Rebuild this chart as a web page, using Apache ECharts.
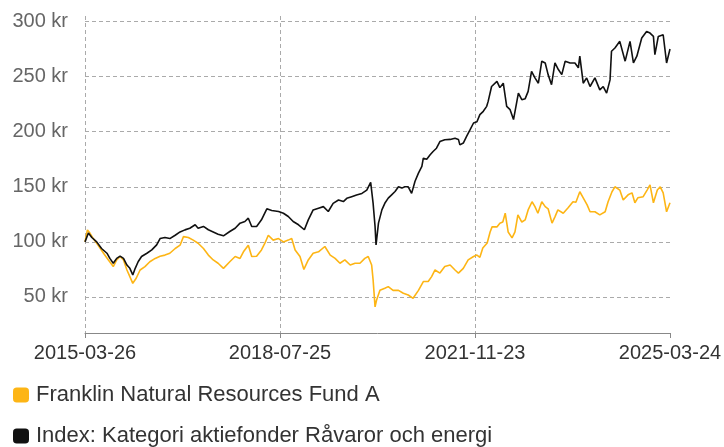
<!DOCTYPE html>
<html>
<head>
<meta charset="utf-8">
<script src="https://cdn.jsdelivr.net/npm/echarts@6/dist/echarts.min.js"></script>
<style>
  html, body { margin: 0; padding: 0; background: #fff; }
  #chart { width: 724px; height: 447px; }
</style>
</head>
<body>
<div id="chart"></div>
<script>
// x = months since 2015-03-26
const xTickLabels = ['2015-03-26', '2018-07-25', '2021-11-23', '2025-03-24']
const yTicks = [50, 100, 150, 200, 250, 300]
const seriesNames = ['Franklin Natural Resources Fund A', 'Index: Kategori aktiefonder Råvaror och energi']

const fundMonths = [0, 0.5, 1.0, 1.7, 2.7, 3.8, 4.8, 5.8, 6.5, 7.2, 7.9, 8.6, 9.2, 9.8, 10.5, 11.3, 12.3, 13.3, 14.4, 15.4,
  16.4, 17.4, 18.5, 19.5, 20.2, 21.2, 22.2, 23.2, 24.3, 25.3, 26.3, 27.3, 28.4, 29.7, 30.8, 31.8, 32.5, 33.5, 34.2, 35.2,
  36.2, 36.9, 37.6, 38.6, 39.7, 40.7, 41.7, 42.4, 43.1, 44.1, 44.9, 45.8, 46.8, 47.9, 49.2, 50.3, 51.3, 52.3, 53.3, 54.4,
  55.4, 56.4, 57.4, 58.1, 58.8, 59.1, 59.5, 59.8, 60.5, 61.5, 62.2, 63.2, 64.3, 65.3, 66.3, 67.3, 68.4, 69.4, 70.4, 71.1,
  71.8, 72.8, 73.8, 74.9, 75.9, 76.6, 77.6, 78.6, 79.7, 80.4, 81.0, 81.6, 82.5, 83.1, 83.5, 84.5, 85.1, 85.7, 86.2, 86.8,
  87.6, 88.2, 88.8, 89.6, 90.3, 90.9, 91.7, 92.3, 92.9, 93.7, 94.4, 95.0, 95.8, 96.4, 97.0, 98.1, 99.1, 100.1, 100.7, 101.5,
  102.2, 103.0, 103.6, 104.6, 105.6, 106.7, 107.3, 108.1, 108.7, 109.7, 110.4, 111.4, 112.2, 112.8, 113.4, 114.5, 115.3, 115.9, 116.6, 117.4,
  118.0, 118.6, 119.3, 120]
const fundValues = [100, 110.9, 108, 103, 97, 89.7, 83.6, 77.6, 83.6, 86.7, 83.6, 74.5, 68.5, 62.4, 67, 74.5, 77.6, 82, 85, 87,
  88, 89.7, 94, 97, 104.8, 104, 101.6, 98.8, 94, 88, 83.6, 80.6, 76, 82, 86.7, 85, 91, 97, 86.7, 87,
  92.7, 98.8, 106, 101.6, 103, 100, 101.6, 103, 92.7, 86.7, 75, 83.6, 89.7, 91, 95.8, 88, 85, 80.6, 83.6, 79,
  80.6, 80.6, 85, 86.7, 79, 65.5, 41, 47, 56, 57.9, 59.4, 56, 56, 53.4, 51.8, 48.8, 56, 64, 64, 68.5,
  74.5, 71.7, 77.6, 79, 74.5, 71.7, 76, 83.6, 86.7, 88, 86, 94.5, 99, 109, 113.6, 113.6, 117, 118, 126, 109,
  103.6, 109, 124.5, 118, 120, 129, 136.4, 132, 126, 136.4, 132, 130, 117, 122.7, 129, 126, 130.9, 136.4, 136, 145.5,
  140, 133.6, 127.3, 127.3, 124.5, 127.3, 136.4, 145.5, 150, 147, 138, 142.7, 144.5, 135.5, 140, 141, 147, 151.8, 135.5, 147,
  150, 144.5, 127.3, 135.5]

const indexMonths = [0, 0.7, 1.4, 2.4, 3.4, 4.5, 5.1, 5.8, 6.5, 7.2, 7.9, 8.6, 9.2, 9.8, 10.3, 10.9, 11.6, 12.7, 13.7, 14.7,
  15.4, 16.4, 17.4, 18.5, 19.5, 20.5, 21.5, 22.6, 23.2, 24.3, 25.3, 26.3, 27.3, 28.4, 28.7, 29.7, 30.8, 31.8, 32.8, 33.5,
  34.2, 35.2, 36.2, 37.3, 38.3, 39.7, 40.7, 41.7, 42.7, 43.8, 45.0, 45.8, 46.8, 47.9, 48.9, 49.9, 50.9, 52.0, 53.0, 53.7,
  54.7, 55.7, 56.8, 57.8, 58.6, 59.1, 59.5, 59.7, 60.2, 60.9, 61.5, 62.2, 62.9, 63.6, 64.3, 65.0, 65.6, 66.3, 67.0, 67.7,
  68.4, 69.1, 69.4, 70.1, 70.8, 71.4, 72.1, 72.8, 73.8, 74.9, 75.9, 76.6, 76.9, 77.6, 78.3, 79.0, 79.7, 80.4, 81.0, 81.7,
  82.4, 82.7, 83.4, 84.5, 85.1, 85.8, 86.5, 87.2, 87.9, 88.9, 89.6, 90.3, 90.9, 91.6, 92.3, 93.0, 93.7, 94.4, 95.0, 95.7,
  96.4, 97.1, 97.8, 98.5, 99.5, 100.5, 101.2, 101.5, 102.2, 102.9, 103.6, 104.6, 105.6, 106.3, 107.0, 107.7, 108.0, 108.7, 109.7, 110.1,
  110.8, 111.8, 112.5, 113.2, 114.2, 115.2, 115.9, 116.6, 116.9, 117.6, 118.6, 119.3, 120]
const indexValues = [100, 108, 104, 100, 94, 89.7, 85, 80.6, 85, 87, 85, 79, 76, 70, 76, 82, 86.7, 89.7, 92.7, 97.3,
  103, 104, 103, 106, 109, 110.9, 112.4, 115.5, 112.4, 114, 111, 109, 107, 105.5, 104.8, 109.4, 112.4, 117, 118.5, 121.5,
  114, 114, 120, 130, 128.5, 127.6, 126, 123, 118.5, 115.5, 111, 120, 129, 130.6, 132, 127.6, 135, 138, 136.6, 139.5,
  141, 142.5, 144, 147, 154, 135, 114, 97.3, 117, 129, 135, 139.7, 142.7, 145.7, 150, 148.8, 150, 150, 144, 155,
  162.4, 168.5, 176, 175, 179, 182, 185, 191, 192.7, 193, 194, 193, 188, 189.7, 196, 201.8, 207.9, 209, 215.5, 218.5,
  223, 227.5, 241, 245.7, 240, 244, 223, 220, 211, 235, 229, 230, 236.6, 254.8, 248.8, 244, 264, 262.4, 251.8, 242.7,
  262.4, 256.4, 251.8, 264, 262.4, 262.4, 258, 268.5, 244, 248.8, 241, 248.8, 238, 241, 235, 247, 273, 276, 282, 280.5,
  264, 282, 262.4, 268.5, 285, 291, 289.5, 286.5, 270, 286.5, 288, 262.4, 275]

const zip = (xs, ys) => xs.map((x, i) => [x, ys[i]])

const chart = echarts.init(document.getElementById('chart'), null, { renderer: 'canvas' })
const gridDash = { color: '#aaa', width: 1, type: [4, 3] }

// one legend per row, stacked
const legendRow = (name, top) => ({
  orient: 'horizontal',
  left: 13,
  top: top,
  padding: 0,
  itemWidth: 16,
  itemHeight: 15,
  itemGap: 0,
  icon: 'roundRect',
  textStyle: { fontSize: 22, color: '#333', padding: [0, 0, 0, 2] },
  data: [name]
})

chart.setOption({
  animation: false,
  textStyle: { fontFamily: '"Liberation Sans", Arial, sans-serif' },
  grid: { left: 85, right: 54, top: 16, bottom: 114, outerBoundsMode: 'none' },
  legend: [legendRow(seriesNames[0], 384), legendRow(seriesNames[1], 425)],
  xAxis: {
    type: 'value',
    min: 0,
    max: 120,
    interval: 40,
    axisLine: { show: true, lineStyle: { color: '#888' } },
    axisTick: { show: true, length: 5, lineStyle: { color: '#888' } },
    axisLabel: {
      fontSize: 20,
      color: '#333',
      margin: 10,
      formatter: v => xTickLabels[Math.round(v / 40)]
    },
    splitLine: { show: true, showMaxLine: false, lineStyle: gridDash }
  },
  yAxis: {
    type: 'value',
    min: 17.3,
    max: 305,
    axisLine: { show: false },
    axisTick: { show: false, customValues: yTicks },
    axisLabel: {
      fontSize: 20,
      color: '#666',
      margin: 17,
      customValues: yTicks,
      formatter: v => v + ' kr'
    },
    splitLine: { show: true, lineStyle: gridDash }
  },
  series: [
    {
      name: seriesNames[0],
      type: 'line',
      data: zip(fundMonths, fundValues),
      showSymbol: false,
      color: '#fdb515',
      lineStyle: { width: 1.6, color: '#fdb515' }
    },
    {
      name: seriesNames[1],
      type: 'line',
      data: zip(indexMonths, indexValues),
      showSymbol: false,
      color: '#111',
      lineStyle: { width: 1.6, color: '#111' }
    }
  ]
})
</script>
</body>
</html>
